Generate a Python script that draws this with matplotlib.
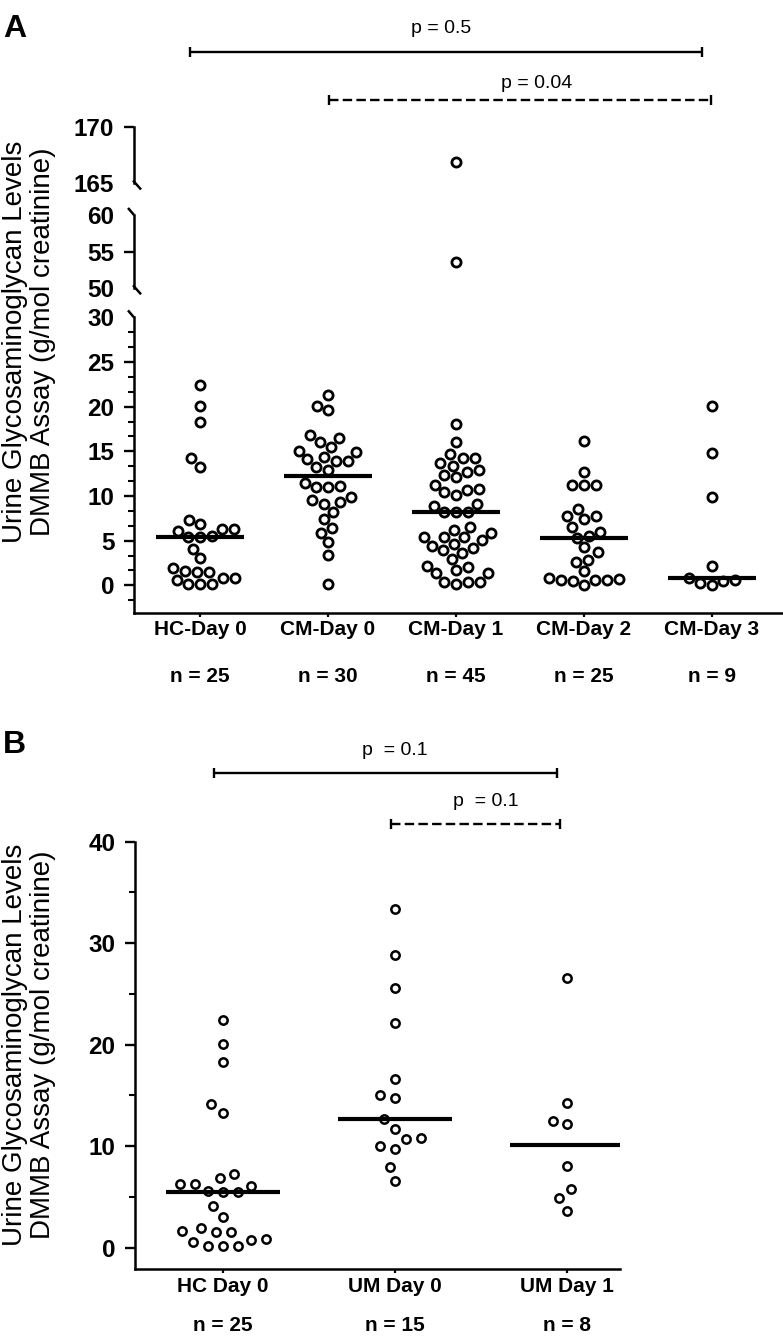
import numpy as np
import matplotlib
matplotlib.use('Agg')
import matplotlib.pyplot as plt
from matplotlib.lines import Line2D
from matplotlib.transforms import blended_transform_factory, IdentityTransform

plt.rcParams['font.family'] = ['Liberation Sans', 'DejaVu Sans']

# categorias
groups_a = ['HC-Day 0', 'CM-Day 0', 'CM-Day 1', 'CM-Day 2', 'CM-Day 3']
groups_b = ['HC Day 0', 'UM Day 0', 'UM Day 1']

# valores (g/mol creatinina)
hc_day0 = [22.4, 20.1, 18.3, 14.2, 13.3, 7.3, 6.9, 6.3, 6.3, 6.1, 5.55, 5.45, 5.45,
           4.1, 3.0, 1.9, 1.6, 1.5, 1.5, 0.85, 0.8, 0.6, 0.2, 0.2, 0.2]
cm_day0 = [21.3, 20.1, 19.6, 16.8, 16.5, 16.1, 15.5, 15.0, 14.9, 14.4, 14.1, 13.95, 13.95,
           13.2, 12.9, 11.5, 11.15, 11.05, 11.05, 9.9, 9.6, 9.35, 9.1, 8.25, 7.4, 6.45,
           5.9, 4.8, 3.4, 0.1]
cm_day1 = [166.9, 53.6, 18.1, 16.1, 14.7, 14.3, 14.2, 13.65, 13.4, 12.9, 12.7, 12.4, 12.1,
           11.2, 10.8, 10.7, 10.4, 10.1, 9.1, 8.9, 8.25, 8.25, 8.25, 6.55, 6.2, 5.9, 5.45,
           5.4, 5.4, 5.1, 4.6, 4.45, 4.15, 3.9, 3.6, 2.95, 2.2, 2.0, 1.7, 1.4, 1.35, 0.4,
           0.4, 0.35, 0.2]
cm_day2 = [16.2, 12.65, 11.2, 11.2, 11.2, 8.55, 7.8, 7.75, 7.4, 6.55, 6.0, 5.55, 5.35,
           4.25, 3.7, 2.85, 2.6, 1.6, 0.78, 0.67, 0.6, 0.6, 0.6, 0.48, 0.03]
cm_day3 = [20.1, 14.8, 9.9, 2.2, 0.78, 0.6, 0.48, 0.22, 0.03]
um_day0 = [33.4, 28.8, 25.6, 22.1, 16.6, 15.05, 14.7, 12.7, 11.7, 10.8, 10.7, 10.0,
           9.75, 7.95, 6.55]
um_day1 = [26.6, 14.3, 12.5, 12.2, 8.0, 5.8, 4.9, 3.65]

data_a = [hc_day0, cm_day0, cm_day1, cm_day2, cm_day3]
data_b = [hc_day0, um_day0, um_day1]

# comparacoes (grupo inicial, grupo final, texto)
pvals_a = [(0, 4, 'p = 0.5'), (1, 4, 'p = 0.04')]
pvals_b = [(0, 2, 'p  = 0.1'), (1, 2, 'p  = 0.1')]

W, H = 783, 1336
fig = plt.figure(figsize=(W / 100, H / 100), dpi=100)


def box(left, top, right, bottom):
    return [left / W, 1 - bottom / H, (right - left) / W, (bottom - top) / H]


ax_lo = fig.add_axes(box(134, 317.4, 783, 612.7))
ax_mid = fig.add_axes(box(134, 215, 783, 288.3))
ax_top = fig.add_axes(box(134, 127.5, 783, 183.5))
ax_b = fig.add_axes(box(135, 841.7, 620, 1269))

for ax in [ax_lo, ax_mid, ax_top]:
    ax.set_xlim(-0.516, 4.555)
ax_lo.set_ylim(-3.07, 30)
ax_mid.set_ylim(50, 60)
ax_top.set_ylim(165, 170)
ax_b.set_xlim(-0.509, 2.306)
ax_b.set_ylim(-2.1, 40)

for ax in [ax_lo, ax_mid, ax_top, ax_b]:
    ax.patch.set_visible(False)
    for s in ['top', 'right']:
        ax.spines[s].set_visible(False)
    for s in ['left', 'bottom']:
        ax.spines[s].set_linewidth(1.8)
    ax.tick_params(axis='y', which='major', length=7.2, width=1.7, pad=7)
    ax.tick_params(axis='y', which='minor', length=4.3, width=1.5)
    ax.tick_params(axis='x', length=3, width=1.6, pad=2.5)

for ax in [ax_mid, ax_top]:
    ax.spines['bottom'].set_visible(False)
    ax.set_xticks([])

# eixo y quebrado
yt = list(range(0, 31, 5))
ax_lo.set_yticks(yt, [str(t) for t in yt], fontsize=17.5, fontweight='bold')
ax_lo.set_yticks([k * 5 / 3 for k in range(-1, 18) if k % 3 != 0], minor=True)
ax_lo.yaxis.get_major_ticks()[-1].tick1line.set_visible(False)
ax_mid.set_yticks([50, 55, 60], ['50', '55', '60'], fontsize=17.5, fontweight='bold')
ax_mid.yaxis.get_major_ticks()[0].tick1line.set_visible(False)
ax_mid.yaxis.get_major_ticks()[2].tick1line.set_visible(False)
ax_top.set_yticks([165, 170], ['165', '170'], fontsize=17.5, fontweight='bold')
ax_top.yaxis.get_major_ticks()[0].tick1line.set_visible(False)

ax_lo.set_xticks(range(len(groups_a)), groups_a, fontsize=15, fontweight='bold')

ax_b.set_yticks(range(0, 41, 10), [str(t) for t in range(0, 41, 10)],
                fontsize=17.5, fontweight='bold')
ax_b.set_yticks([5, 15, 25, 35], minor=True)
ax_b.set_xticks(range(len(groups_b)), groups_b, fontsize=15, fontweight='bold')


def break_mark(ax, where):
    x, y = ax.transAxes.transform((0, 1 if where == 'top' else 0))
    if where == 'top':
        xs, ys = [x, x - 6], [y, y + 7]
    else:
        xs, ys = [x - 1, x + 7], [y + 3, y - 6]
    fig.add_artist(Line2D(xs, ys, transform=IdentityTransform(), color='k',
                          lw=1.8, solid_capstyle='butt'))


break_mark(ax_lo, 'top')
break_mark(ax_mid, 'top')
break_mark(ax_mid, 'bottom')
break_mark(ax_top, 'bottom')


def swarm(ax, xc, vals, d):
    vals = np.asarray(vals, dtype=float)
    pts = ax.transData.transform(np.column_stack([np.full(len(vals), xc), vals]))
    order = np.argsort(pts[:, 1], kind='stable')
    placed = []
    xs = np.zeros(len(vals))
    for i in order:
        x0, y0 = pts[i]
        cands = [x0]
        for px, py in placed:
            dy = abs(py - y0)
            if dy < d:
                dx = np.sqrt(d * d - dy * dy)
                cands += [px - dx, px + dx]
        cands.sort(key=lambda c: abs(c - x0))
        for c in cands:
            if all((c - px) ** 2 + (y0 - py) ** 2 >= d * d - 1e-6 for px, py in placed):
                break
        placed.append((c, y0))
        xs[i] = c
    return ax.transData.inverted().transform(np.column_stack([xs, pts[:, 1]]))


def draw_group(axes, i, vals, d, ms, mew, hw, lw_med):
    vals = np.asarray(vals, dtype=float)
    for ax in axes:
        lo, hi = ax.get_ylim()
        sub = vals[(vals >= lo) & (vals <= hi)]
        if len(sub) == 0:
            continue
        xy = swarm(ax, i, sub, d)
        ax.plot(xy[:, 0], xy[:, 1], 'o', ms=ms, mfc='white', mec='black', mew=mew,
                clip_on=False, zorder=3)
    med = np.median(vals)
    axes[0].hlines(med, i - hw, i + hw, color='black', lw=lw_med, zorder=4)


for i, vals in enumerate(data_a):
    draw_group([ax_lo, ax_mid, ax_top], i, vals, 12, 6.6, 2.0, 0.345, 3.0)
for i, vals in enumerate(data_b):
    draw_group([ax_b], i, vals, 15, 6.0, 1.8, 0.33, 3.0)

# n = ...
for i, vals in enumerate(data_a):
    ax_lo.annotate(f'n = {len(vals)}', xy=(i, H - 681.7), xycoords=('data', 'figure pixels'),
                   ha='center', va='baseline', fontsize=15, fontweight='bold',
                   annotation_clip=False)
for i, vals in enumerate(data_b):
    ax_b.annotate(f'n = {len(vals)}', xy=(i, H - 1331), xycoords=('data', 'figure pixels'),
                  ha='center', va='baseline', fontsize=15, fontweight='bold',
                  annotation_clip=False)


def bracket(ax, x0, x1, y, dashed, label, xt, yt):
    tr = blended_transform_factory(ax.transData, IdentityTransform())
    ls = (0, (4, 1.8)) if dashed else '-'
    ax.plot([x0, x1], [H - y, H - y], color='black', lw=1.7, ls=ls, transform=tr,
            clip_on=False, solid_capstyle='butt', dash_capstyle='butt')
    for xe in [x0, x1]:
        ax.plot([xe, xe], [H - y - 5, H - y + 5], color='black', lw=1.7, transform=tr,
                clip_on=False, solid_capstyle='butt')
    ax.annotate(label, xy=(xt, H - yt), xycoords=('data', 'figure pixels'),
                ha='center', va='baseline', fontsize=14, annotation_clip=False)


bracket(ax_lo, pvals_a[0][0] - 0.08, pvals_a[0][1] - 0.08, 51.7, False, pvals_a[0][2], 1.88, 33.3)
bracket(ax_lo, pvals_a[1][0] + 0.01, pvals_a[1][1] - 0.01, 100, True, pvals_a[1][2], 2.63, 88.3)
bracket(ax_b, pvals_b[0][0] - 0.05, pvals_b[0][1] - 0.06, 773, False, pvals_b[0][2], 1.0, 755)
bracket(ax_b, pvals_b[1][0] - 0.025, pvals_b[1][1] - 0.045, 824, True, pvals_b[1][2], 1.53, 805.7)

# titulos dos eixos e letras dos paineis
ylab = 'Urine Glycosaminoglycan Levels\nDMMB Assay (g/mol creatinine)'
fig.text(29.5 / W, 1 - 342 / H, ylab, rotation=90, ha='center', va='center',
         fontsize=20, linespacing=1.1)
fig.text(29.5 / W, 1 - 1045 / H, ylab, rotation=90, ha='center', va='center',
         fontsize=20, linespacing=1.1)
fig.text(3 / W, 1 - 36.7 / H, 'A', fontsize=23, fontweight='bold', va='baseline')
fig.text(3 / W, 1 - 753.3 / H, 'B', fontsize=23, fontweight='bold', va='baseline')

fig.savefig('out.png', dpi=100)
